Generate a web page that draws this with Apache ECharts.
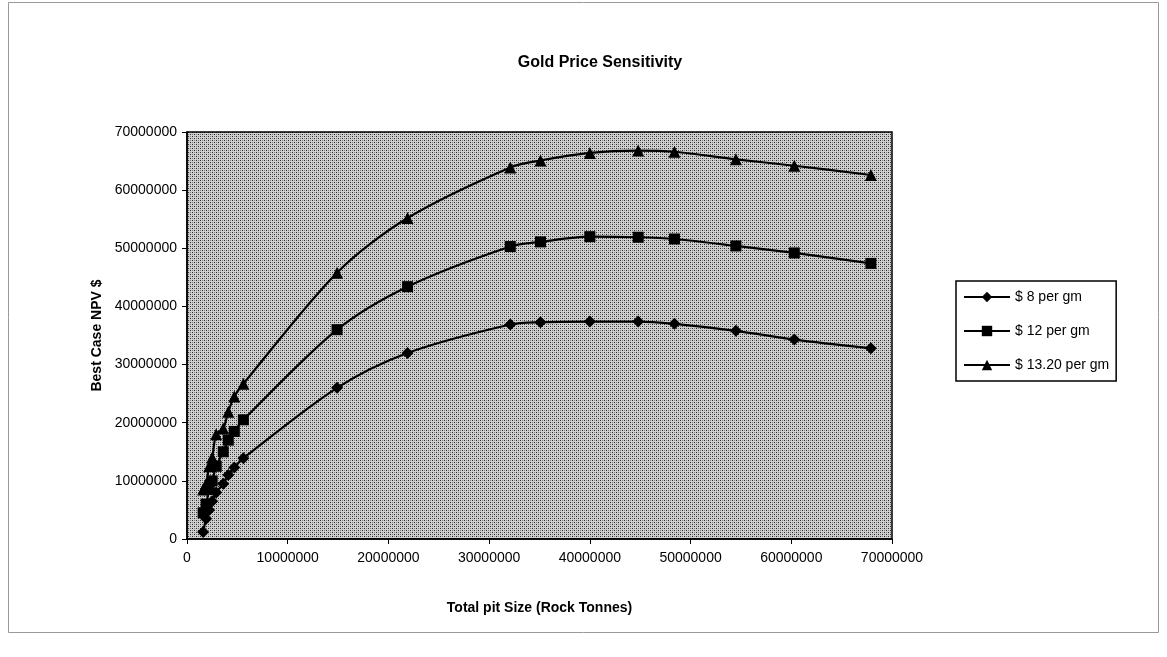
<!DOCTYPE html>
<html><head><meta charset="utf-8">
<script src="https://cdn.jsdelivr.net/npm/echarts@6/dist/echarts.min.js"></script>
<style>html,body{margin:0;padding:0;background:#fff}#c{width:1167px;height:657px}</style>
</head><body><div id="c"></div>
<script>
const pitSize = [1600000,1900000,2200000,2500000,2900000,3600000,4100000,4700000,5600000,14900000,21900000,32100000,35100000,40000000,44800000,48400000,54500000,60300000,67900000];
const npv8 = [1200000,3500000,5000000,6500000,8000000,9500000,11000000,12300000,13900000,26000000,32000000,36900000,37300000,37400000,37400000,37000000,35800000,34300000,32800000];
const npv12 = [4500000,6000000,8500000,10000000,12500000,15000000,17000000,18500000,20500000,36000000,43400000,50300000,51100000,52000000,51900000,51600000,50400000,49200000,47400000];
const npv1320 = [8500000,9500000,12500000,14000000,18000000,19000000,21900000,24500000,26700000,45800000,55200000,63900000,65100000,66400000,66800000,66600000,65300000,64200000,62600000];
const seriesNames = ['$ 8 per gm','$ 12 per gm','$ 13.20 per gm'];
const markers = ['diamond','rect','triangle'];
const markerSizes = [12,11,12];
const allValues = [npv8, npv12, npv1320];

const pc = document.createElement('canvas');
pc.width = 4; pc.height = 4;
const pctx = pc.getContext('2d');
pctx.fillStyle = '#d0d0d0'; pctx.fillRect(0,0,4,4);
pctx.fillStyle = '#2a2a2a'; pctx.fillRect(0,0,1,1); pctx.fillRect(2,2,1,1);
pctx.fillStyle = '#808080'; pctx.fillRect(2,0,1,1); pctx.fillRect(0,2,1,1);

const chart = echarts.init(document.getElementById('c'), null, {renderer:'canvas'});
const font = 'Liberation Sans, Arial, sans-serif';
const plain = v => String(Math.round(v));
chart.setOption({
  animation:false,
  backgroundColor:'#fff',
  title:{text:'Gold Price Sensitivity', left:595, top:50, textAlign:'center',
    textStyle:{fontFamily:font, fontSize:16, fontWeight:'bold', color:'#000'}},
  graphic:[{type:'rect', shape:{x:8.5,y:2.5,width:1150,height:630}, style:{fill:'none', stroke:'#999', lineWidth:1}, silent:true}],
  legend:{
    orient:'vertical', left:956, top:281, itemGap:20,
    itemWidth:46, itemHeight:13,
    backgroundColor:'#fff', borderColor:'#000', borderWidth:1.5, padding:[9,7,9,7],
    textStyle:{fontFamily:font, fontSize:14, color:'#000'},
    data: seriesNames
  },
  grid:{left:187, top:132, right:275, bottom:118, show:true,
    backgroundColor:{image:pc, repeat:'repeat'}, borderColor:'#000', borderWidth:1.5},
  xAxis:{type:'value', min:0, max:70000000, interval:10000000,
    name:'Total pit Size (Rock Tonnes)', nameLocation:'middle', nameGap:62,
    nameTextStyle:{fontFamily:font, fontSize:14, fontWeight:'bold', color:'#000'},
    axisLine:{show:true, onZero:false, lineStyle:{color:'#000', width:1.5}},
    axisTick:{show:true, length:5, lineStyle:{color:'#000'}},
    axisLabel:{fontFamily:font, fontSize:14, color:'#000', margin:12, formatter:plain},
    splitLine:{show:false}},
  yAxis:{type:'value', min:0, max:70000000, interval:10000000,
    name:'Best Case NPV $', nameLocation:'middle', nameGap:80, nameRotate:90,
    nameTextStyle:{fontFamily:font, fontSize:14, fontWeight:'bold', color:'#000'},
    axisLine:{show:true, lineStyle:{color:'#000', width:1.5}},
    axisTick:{show:true, length:5, lineStyle:{color:'#000'}},
    axisLabel:{fontFamily:font, fontSize:14, color:'#000', margin:10, formatter:plain},
    splitLine:{show:false}},
  series: seriesNames.map((n,i)=>({
    name:n, type:'line', smooth:0.3,
    symbol:markers[i], symbolSize:markerSizes[i],
    itemStyle:{color:'#000'}, lineStyle:{color:'#000', width:2.2},
    data: pitSize.map((x,j)=>[x, allValues[i][j]])
  }))
});
</script></body></html>
